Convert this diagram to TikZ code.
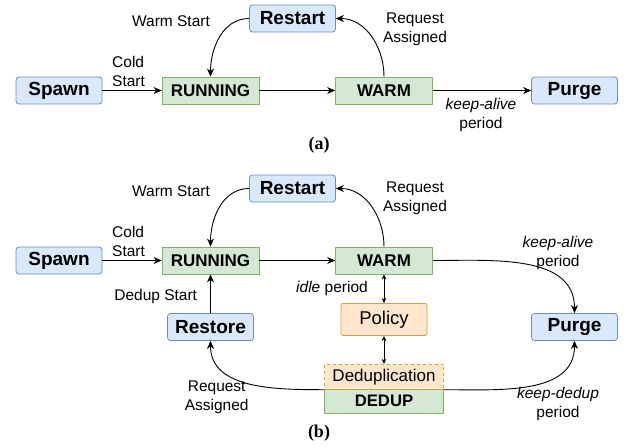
\documentclass[tikz,border=0pt]{standalone}
\usepackage{fontspec}
\setmainfont{Liberation Sans}
\newfontfamily\capfont{Liberation Serif}
\usetikzlibrary{arrows.meta}
\definecolor{blufill}{HTML}{DAE8FC}
\definecolor{bludraw}{HTML}{6C8EBF}
\definecolor{grnfill}{HTML}{D5E8D4}
\definecolor{grndraw}{HTML}{82B366}
\definecolor{orgfill}{HTML}{FFE6CC}
\definecolor{orgdraw}{HTML}{D6A32A}
\begin{document}
\begin{tikzpicture}[x=1pt,y=1pt,
        blubox/.style={draw=bludraw, fill=blufill, rounded corners=3pt, line width=0.8pt, minimum width=86pt, minimum height=27pt, inner sep=0pt, font=\fontsize{19}{22}\selectfont\bfseries},
        grnbox/.style={draw=grndraw, fill=grnfill, line width=0.8pt, minimum width=97pt, minimum height=27pt, inner sep=0pt, font=\fontsize{17}{20}\selectfont\bfseries},
        lbl/.style={inner sep=0pt, align=center, font=\fontsize{15.5}{19}\selectfont},
        arr/.style={-{Stealth[length=8pt,width=7pt,inset=2.5pt]}, line width=0.9pt},
        dbl/.style={{Stealth[length=5pt,width=4.5pt,inset=1.5pt]}-{Stealth[length=5pt,width=4.5pt,inset=1.5pt]}, line width=0.8pt}]
        \useasboundingbox (0,0) rectangle (624,-447);
        % (a)
        \node[blubox] (spawna) at (59,-90.5) {Spawn};
        \node[grnbox] (runa) at (210.5,-90.5) {RUNNING};
        \node[blubox] (restarta) at (292.5,-18.5) {Restart};
        \node[grnbox] (warma) at (384,-90.5) {WARM};
        \node[blubox] (purgea) at (574.5,-90.5) {Purge};
            \draw[arr] (spawna) -- (runa) ;
            \draw[arr] (runa) -- (warma) ;
            \draw[arr] (warma) -- (purgea) ;
            \draw[arr] (restarta.west) to[out=180, in=90] (runa.north) ;
            \draw[arr] (warma.north) to[out=90, in=0] (restarta.east) ;
        \node[lbl] (warmsta) at (171,-21) {Warm Start};
        \node[lbl, anchor=west, align=left] (coldsta) at (112,-71.5) {Cold\\Start};
        \node[lbl] (reqa) at (415,-29) {Request\\Assigned};
        \node[lbl] (alivea) at (481,-115) {\textit{keep-alive}\\period};
        \node[inner sep=0pt, font=\capfont\fontsize{18}{20}\selectfont\bfseries] (capa) at (319,-145) {(a)};
        % (b)
        \node[blubox] (spawnb) at (59,-260.5) {Spawn};
        \node[grnbox] (runb) at (210.5,-260.5) {RUNNING};
        \node[blubox] (restartb) at (292.5,-188.5) {Restart};
        \node[grnbox] (warmb) at (384,-260.5) {WARM};
        \node[blubox] (purgeb) at (574.5,-327) {Purge};
        \node[blubox] (restoreb) at (210.5,-327) {Restore};
        \node[draw=orgdraw, fill=orgfill, rounded corners=2pt, line width=0.8pt, minimum width=86pt, minimum height=32pt, inner sep=0pt, font=\fontsize{18.5}{22}\selectfont] (policyb) at (384,-319.5) {Policy};
        \node[grnbox, minimum width=119pt, minimum height=24pt, font=\fontsize{16.7}{20}\selectfont\bfseries] (dedupb) at (384,-401.3) {DEDUP};
        \node[draw=orgdraw, fill=orgfill, dashed, line width=0.8pt, minimum width=119pt, minimum height=25pt, inner sep=0pt, font=\fontsize{17}{20}\selectfont] (dedupl) at (384,-376.8) {Deduplication};
            \draw[arr] (spawnb) -- (runb) ;
            \draw[arr] (runb) -- (warmb) ;
            \draw[arr] (restoreb) -- (runb) ;
            \draw[arr] (restartb.west) to[out=180, in=90] (runb.north) ;
            \draw[arr] (warmb.north) to[out=90, in=0] (restartb.east) ;
            \draw[arr] (warmb.east) to[out=0, in=90] (purgeb.north) ;
            \draw[dbl] (warmb.south) -- (policyb.north) ;
            \draw[dbl] (policyb.south) -- (dedupl.north) ;
            \draw[arr] (dedupl.south west) to[out=180, in=-90] (restoreb.south) ;
            \draw[arr] (dedupl.south east) to[out=0, in=-90] (purgeb.south) ;
        \node[lbl] (warmstb) at (171,-191) {Warm Start};
        \node[lbl, anchor=west, align=left] (coldstb) at (112,-241.5) {Cold\\Start};
        \node[lbl] (dedupst) at (155.7,-296) {Dedup Start};
        \node[lbl] (reqb) at (415,-198) {Request\\Assigned};
        \node[lbl] (idleb) at (332,-288) {\textit{idle} period};
        \node[lbl] (aliveb) at (558,-252.5) {\textit{keep-alive}\\period};
        \node[lbl] (reqc) at (216.7,-397.5) {Request\\Assigned};
        \node[lbl] (keepdd) at (558,-403.5) {\textit{keep-dedup}\\period};
        \node[inner sep=0pt, font=\capfont\fontsize{18}{20}\selectfont\bfseries] (capb) at (319,-433) {(b)};
\end{tikzpicture}
\end{document}
